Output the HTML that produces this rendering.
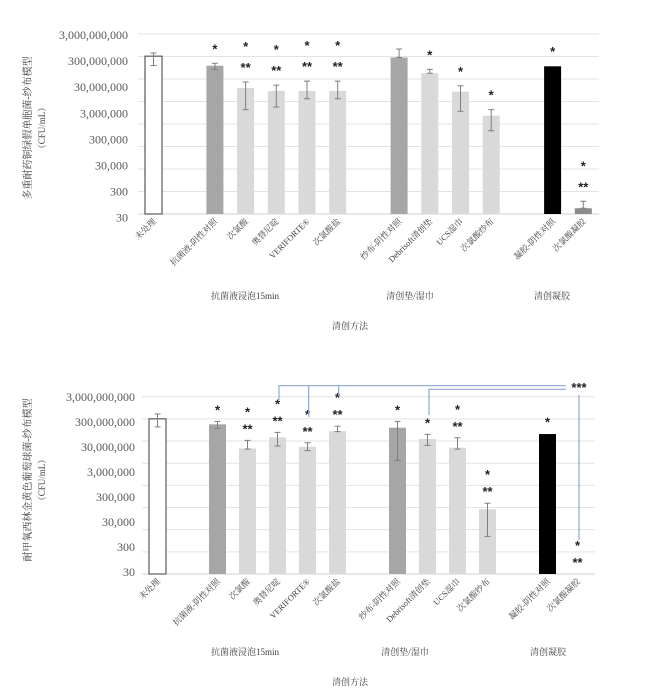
<!DOCTYPE html>
<html><head><meta charset="utf-8"><style>
html,body{margin:0;padding:0;background:#fff;}
svg{display:block;font-family:"Liberation Serif","Noto Serif CJK SC",serif;}
</style></head><body>
<svg id="svg" width="650" height="697" viewBox="0 0 650 697" xmlns="http://www.w3.org/2000/svg"></svg>
<script>
const categories = ["未处理","抗菌液-阴性对照","次氯酸","奥替尼啶","VERIFORTE®","次氯酸盐","纱布-阴性对照","Debrisoft清创垫","UCS湿巾","次氯酸纱布","凝胶-阴性对照","次氯酸凝胶"];
const slots = [0,2,3,4,5,6,8,9,10,11,13,14];
const barKinds = ["open","ctrl","trt","trt","trt","trt","ctrl","trt","trt","trt","black","dark"];
const tickLabels = ["3,000,000,000","300,000,000","30,000,000","3,000,000","300,000","30,000","300","30"];
const groupLabels = ["抗菌液浸泡15min","清创垫/湿巾","清创凝胶"];
const chart1Values = [3.1e8,1.17e8,1.2e7,8.8e6,8.8e6,8.8e6,2.7e8,5.4e7,8.2e6,7e5,1.1e8,54];
const chart1ErrHi  = [4.3e8,1.5e8,2.2e7,1.6e7,2.4e7,2.4e7,6.5e8,8e7,1.5e7,1.3e6,1.15e8,110];
const chart1ErrLo  = [1.2e8,8e7,1.3e6,1.7e6,4e6,4e6,2.7e8,5.4e7,1.1e6,1.5e5,1.1e8,54];
const chart1Stars  = [0,1,3,3,3,3,0,1,1,1,1,3];
const chart2Values = [3e8,1.7e8,1.4e7,4.4e7,1.65e7,8.4e7,1.2e8,3.7e7,1.5e7,2.5e4,6.2e7,30];
const chart2ErrHi  = [5e8,2.3e8,3.2e7,7.4e7,2.5e7,1.4e8,2.3e8,6e7,4.2e7,4.7e4,6.5e7,30];
const chart2ErrLo  = [1.3e8,1.1e8,1.3e7,1.8e7,1.1e7,8e7,4e6,1.9e7,1.3e7,1.5e3,6e7,30];
const chart2Stars  = [0,1,3,3,3,3,1,1,3,3,1,3];

const NS="http://www.w3.org/2000/svg";
const svg=document.getElementById('svg');
function mk(tag,attrs,parent,text){const e=document.createElementNS(NS,tag);for(const k in attrs)e.setAttribute(k,attrs[k]);if(text!==undefined)e.textContent=text;(parent||svg).appendChild(e);return e;}
const fills={open:"#ffffff",ctrl:"#a6a6a6",trt:"#d9d9d9",black:"#000000",dark:"#8c8c8c"};

function drawChart(cfg){
  const g=mk('g',{});
  
  
  const dec=(cfg.base-cfg.top)/8;
  const y=v=>cfg.base-(Math.log10(v)-Math.log10(30))*dec;
  const x=s=>cfg.x0+cfg.step*s;
  for(let i=0;i<=8;i++){
    const l=mk('line',{x1:cfg.plotL,x2:cfg.plotR,y1:cfg.top+i*dec,y2:cfg.top+i*dec,stroke:i==8?"#d0d0d0":"#e3e3e3","stroke-width":1},g);
    
    
  }
  tickLabels.forEach((t,i)=>{
    const e=mk('text',{x:cfg.tickX,y:cfg.labTop+i*cfg.labStep+4,"text-anchor":"end","font-size":12,fill:"#595959"},g,t);
    
    
  });
  categories.forEach((c,i)=>{
    const cx=x(slots[i]),v=cfg.values[i],yt=y(v),w=17;
    const k=barKinds[i];
    if(v>30){
      const r=mk('rect',{x:cx-w/2,y:yt,width:w,height:cfg.base-yt,fill:fills[k],stroke:k=="open"?"#595959":"none","stroke-width":1.2},g);
      
      
    }
    const eh=y(cfg.hi[i]),el=y(cfg.lo[i]);
    if(el-eh>1){
      const eb=mk('path',{d:`M${cx},${eh}V${el}M${cx-3},${eh}H${cx+3}M${cx-3},${el}H${cx+3}`,stroke:"#7f7f7f","stroke-width":1,fill:"none"},g);
      
      
    }
    const s=cfg.stars[i],tp=Math.min(eh,yt);
    if(s&2){
      const d=mk('text',{x:cx,y:tp-cfg.dOff+4,"text-anchor":"middle","font-size":13,"font-weight":"bold",fill:"#222","font-family":"Liberation Sans,sans-serif"},g,"**");
      
      
    }
    if(s&1){
      const off=(s&2)?cfg.sOff:cfg.dOff;
      const d=mk('text',{x:cx,y:tp-off+4,"text-anchor":"middle","font-size":13,"font-weight":"bold",fill:"#222","font-family":"Liberation Sans,sans-serif"},g,"*");
      
      
    }
    const lx=cx+3,ly=cfg.base+8;
    const t=mk('text',{x:lx,y:ly,"text-anchor":"end","font-size":8.5,fill:"#404040",transform:`rotate(-45 ${lx} ${ly})`},g,c);
    
    
  });
  groupLabels.forEach((gl,i)=>{
    const t=mk('text',{x:cfg.groupX[i],y:cfg.groupY,"text-anchor":"middle","font-size":9,fill:"#404040"},g,gl);
    
    
  });
  const at=mk('text',{x:350,y:cfg.axisY,"text-anchor":"middle","font-size":9,fill:"#404040"},g,"清创方法");
  
  
  const yt1=mk('text',{x:0,y:0,"text-anchor":"middle","font-size":10,fill:"#404040",transform:`translate(31 ${cfg.ytY}) rotate(-90)`},g,cfg.ytitle);
  
  
  const yt2=mk('text',{x:0,y:0,"text-anchor":"middle","font-size":9,fill:"#404040",transform:`translate(45 ${cfg.ytY}) rotate(-90)`},g,"（CFU/mL）");
  
  
}

drawChart({name:"chart-pseudomonas",top:34,base:214,plotL:138,plotR:599,x0:153.5,step:30.7,tickX:128,labTop:35,labStep:26.1,
  values:chart1Values,hi:chart1ErrHi,lo:chart1ErrLo,stars:chart1Stars,dOff:14,sOff:35,
  groupX:[245,410,552],groupY:299,axisY:329,ytitle:"多重耐药铜绿假单胞菌-纱布模型",ytY:128});
drawChart({name:"chart-mrsa",top:396.7,base:574,plotL:142,plotR:595,x0:157.5,step:30,tickX:135,labTop:397,labStep:25,
  values:chart2Values,hi:chart2ErrHi,lo:chart2ErrLo,stars:chart2Stars,dOff:11,sOff:28,
  groupX:[245,405,548],groupY:655,axisY:685,ytitle:"耐甲氧西林金黄色葡萄球菌-纱布模型",ytY:480});

const br=mk('path',{d:"M279,400V385.7H566M308.7,417V385.7M338.7,396V385.7M429,415V389.3H566M579,395V540",stroke:"#8fa8d8","stroke-width":1.2,fill:"none"});


const st=mk('text',{x:579,y:392,"text-anchor":"middle","font-size":13,"font-weight":"bold",fill:"#222","font-family":"Liberation Sans,sans-serif"},svg,"***");


</script>
</body></html>
